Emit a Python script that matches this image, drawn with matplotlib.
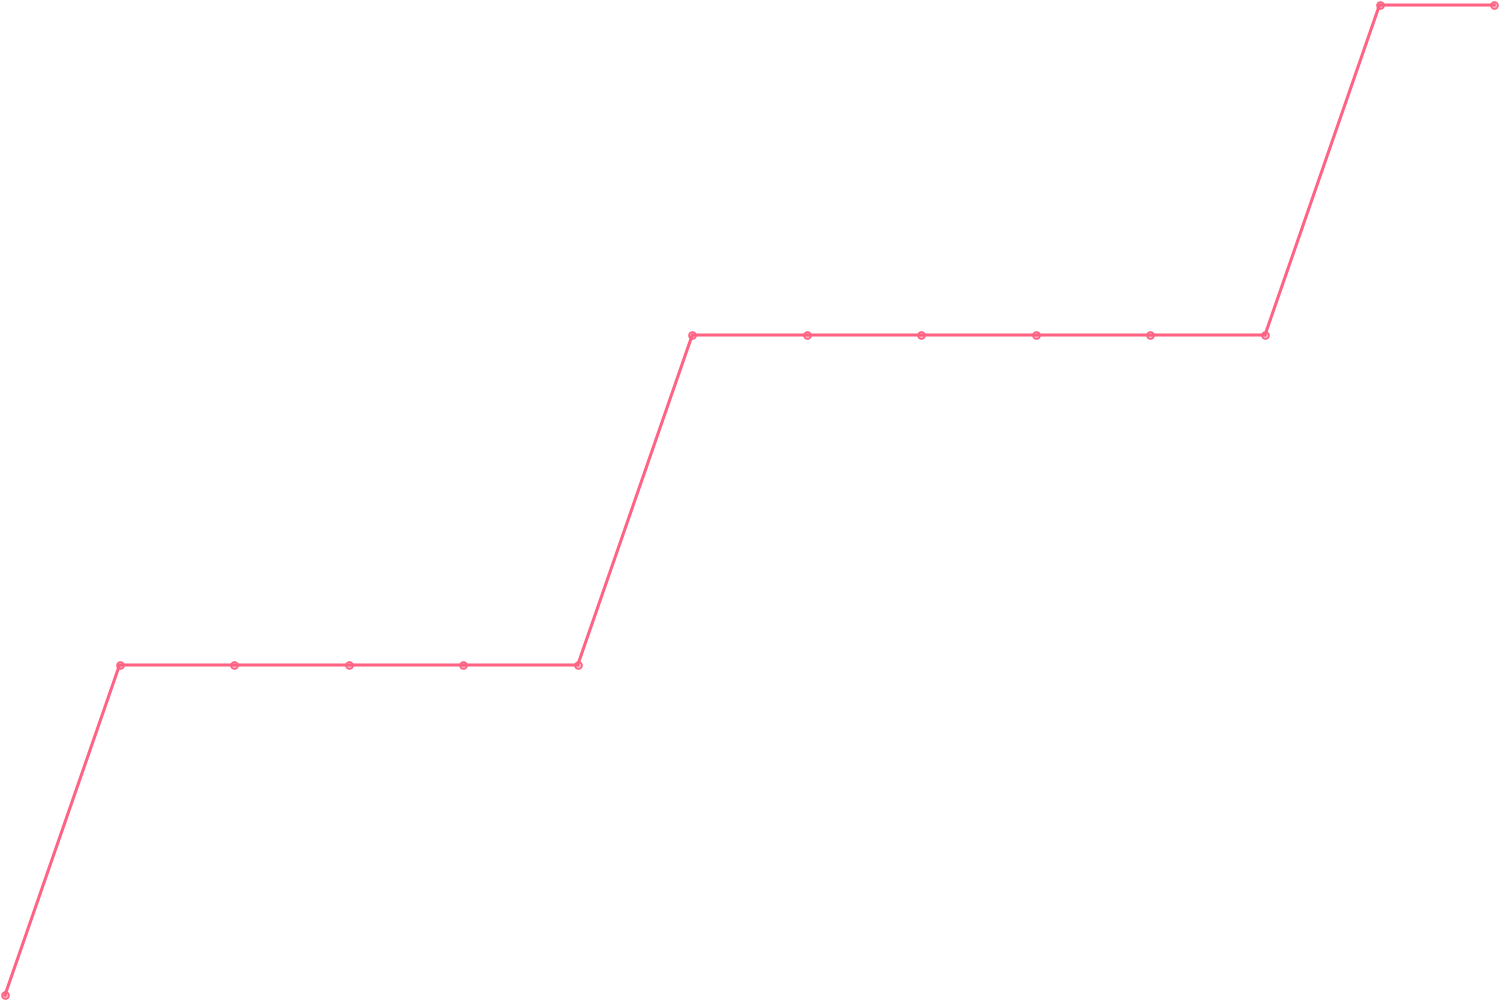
import numpy as np
import matplotlib.pyplot as plt

# <------------------------- datos ------------------------->
steps = list(range(14))
values = [0, 1, 1, 1, 1, 1, 2, 2, 2, 2, 2, 2, 3, 3]

line_color = "#ff6384"

fig = plt.figure(figsize=(15, 10), dpi=100)
ax = fig.add_axes([0, 0, 1, 1])
ax.plot(steps, values, color=line_color, lw=2.2, marker="o", markersize=5,
        markerfacecolor=(1, 0.388, 0.518, 0.5), markeredgecolor=line_color,
        markeredgewidth=1.2, solid_joinstyle="miter")
ax.set_xlim(-0.0437, 13.052)
ax.set_ylim(-0.0152, 3.0152)
ax.axis("off")
plt.savefig("out.png", dpi=100)
